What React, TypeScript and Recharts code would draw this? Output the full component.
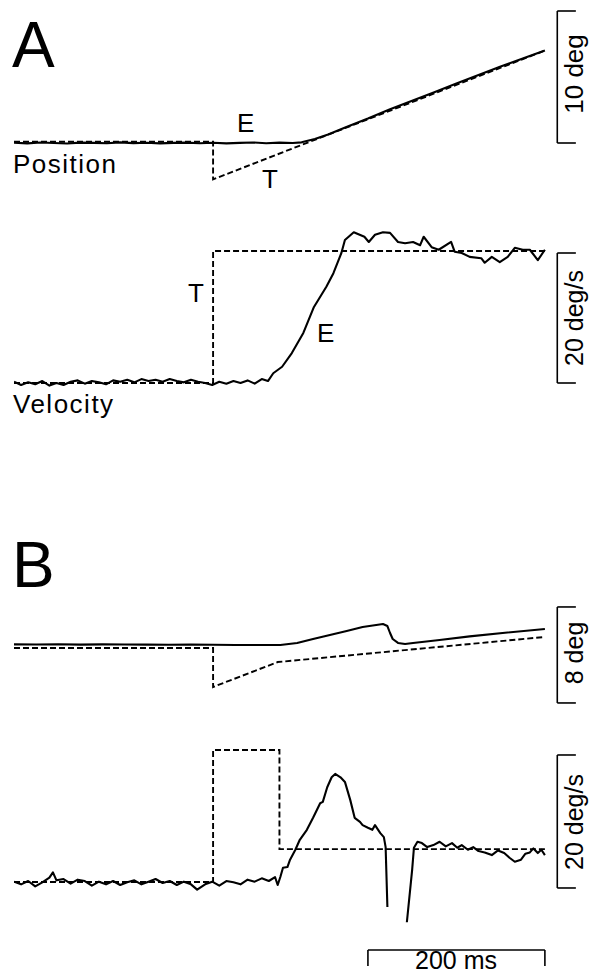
import React from 'react'
import { LineChart, Line, XAxis, YAxis, ReferenceLine } from 'recharts'

// time in ms relative to target motion onset
const T_MIN = -225
const T_MAX = 430.5
const BAR_T = 389
const TICK_T = 410

// ---- A: position (deg) ----
const aPosEyeT = [-225, -210, -195, -180, -165, -150, -135, -120, -105, -90, -75, -60, -45, -30, -15, 0, 15, 30, 45, 60, 75, 90, 100, 115, 130, 150, 175, 200, 225, 250, 275, 300, 325, 350, 375]
const aPosEyeV = [0.02, -0.03, 0.04, 0, -0.04, 0.03, 0.01, -0.02, 0.05, -0.01, 0.02, -0.03, 0.01, 0.03, -0.02, 0.02, -0.03, 0.01, 0.04, -0.02, 0.03, 0.0, 0.05, 0.3, 0.65, 1.2, 1.85, 2.55, 3.2, 3.85, 4.5, 5.15, 5.8, 6.4, 7.0]
const aPosTgtT = [-225, 0, 0, 375]
const aPosTgtV = [0.1, 0.1, -2.75, 7.0]

// ---- A: velocity (deg/s) ----
const aVelEyeT = [-225, -217, -209, -201, -193, -185, -177, -169, -161, -153, -145, -137, -129, -121, -113, -105, -97, -89, -81, -73, -65, -57, -49, -41, -33, -25, -17, -9, -1, 7, 15, 23, 31, 39, 47, 55, 62,
  68, 78, 89, 102, 114, 128, 136, 145, 149, 159, 171, 176, 183, 192, 200, 209, 217, 226, 234, 238, 247, 255, 269, 273, 281, 290, 303, 307, 315, 324, 333, 341, 350, 358, 367, 375]
const aVelEyeV = [0.2, -0.3, 0.1, -0.2, 0.3, -0.4, 0.0, -0.3, 0.2, 0.4, -0.1, 0.3, 0.1, -0.2, 0.4, 0.2, 0.5, 0.1, 0.6, 0.3, 0.5, 0.2, 0.6, 0.3, 0.1, 0.5, 0.2, 0.0, -0.3, 0.2, -0.1, 0.3, 0.0, 0.4, -0.1, 0.6, 0.3,
  1.5, 2.5, 4.6, 7.7, 11.7, 14.8, 16.9, 20, 22, 23.2, 22.5, 21.7, 22.8, 23.2, 23.1, 21.7, 21.5, 21.7, 21.2, 22.5, 20.9, 20.5, 21.7, 20.2, 20, 19.4, 19.2, 18.5, 19.4, 18.6, 19.4, 20.8, 20.5, 20.5, 18.9, 20.5]
const aVelTgtT = [-225, 0, 0, 375]
const aVelTgtV = [0, 0, 20.3, 20.3]

// ---- B: position (deg) ----
const bPosEyeT = [-225, -200, -175, -150, -125, -100, -75, -50, -25, 0, 25, 50, 76, 95, 113, 132, 151, 169, 192, 197, 200, 203, 209, 217, 226, 256, 290, 330, 375]
const bPosEyeV = [0.05, 0.04, 0.06, 0.03, 0.05, 0.04, 0.03, 0.02, 0.03, 0.02, 0.0, 0.0, 0.0, 0.17, 0.5, 0.83, 1.17, 1.5, 1.75, 1.58, 1.0, 0.5, 0.17, 0.08, 0.17, 0.42, 0.72, 1.02, 1.33]
const bPosTgtT = [-225, 0, 0, 73, 375]
const bPosTgtV = [-0.25, -0.25, -3.5, -1.42, 0.67]

// ---- B: velocity (deg/s); null = blanked saccade ----
const bVelEyeT = [-225, -217, -209, -201, -193, -185, -181, -177, -169, -161, -153, -145, -137, -129, -121, -113, -105, -97, -89, -81, -73, -65, -57, -49, -41, -33, -25, -18, -9, -1, 7, 15, 23, 31, 39, 47, 55, 63, 70,
  73, 76, 79, 84, 87, 93, 98, 106, 113, 121, 124, 129, 134, 138, 144, 149, 155, 160, 166, 169, 175, 180, 183, 189, 193, 195, 197, 208,
  219, 225, 227, 231, 236, 242, 249, 256, 263, 270, 276, 281, 288, 294, 300, 307, 315, 322, 329, 335, 341, 348, 353, 358, 362, 367, 371, 375]
const bVelEyeV: (number | null)[] = [0.2, -0.2, 0.3, -0.5, 0.1, 0.8, 1.6, 0.4, 0.6, -0.1, 0.5, 0.3, -0.4, 0.2, -0.2, 0.3, -0.3, 0.1, 0.4, -0.2, 0.2, 0.6, 0.0, 0.3, -0.3, 0.2, -0.2, -1.0, -0.2, 0.2, -0.4, 0.3, 0.1, -0.2, 0.5, 0.2, 0.7, 0.3, 0.9,
  -0.3, 0.9, 2.3, 2.4, 3.5, 5, 6.5, 8, 9.8, 12, 12.2, 14.4, 15.9, 16.4, 15.9, 15.2, 12.5, 9.8, 9.2, 8.7, 8.3, 8, 8.7, 7.5, 6.9, 5.4, -3.6, null,
  -5.9, 2, 5.3, 6.2, 6, 5.4, 5.7, 6.2, 5.5, 6.0, 5.3, 5.7, 5.0, 5.4, 4.8, 4.6, 4.2, 4.9, 4.5, 3.8, 3.2, 3.5, 4.4, 4.6, 5.2, 4.5, 5.0, 4.2]
const bVelTgtT = [-225, 0, 0, 75, 75, 375]
const bVelTgtV = [0.15, 0.15, 20, 20, 5.1, 5.1]

const zip = (ts: number[], vs: (number | null)[]) => ts.map((t, i) => ({ t, v: vs[i] }))

const FONT = '"Liberation Sans", Arial, Helvetica, sans-serif'

interface TraceProps {
  top: number
  height: number
  zeroY: number
  pxPerUnit: number
  eye: { t: number; v: number | null }[]
  target: { t: number; v: number | null }[]
  bar: [number, number]
  timeBar?: boolean
}

function Trace({ top, height, zeroY, pxPerUnit, eye, target, bar, timeBar }: TraceProps) {
  const hi = (zeroY - top) / pxPerUnit
  const lo = hi - height / pxPerUnit
  const tb = (pxY: number) => (zeroY - pxY) / pxPerUnit
  return (
    <div style={{ position: 'absolute', left: 0, top, width: 594, height }}>
      <LineChart width={594} height={height} margin={{ top: 0, right: 0, bottom: 0, left: 14 }}>
        <XAxis type="number" dataKey="t" domain={[T_MIN, T_MAX]} hide allowDataOverflow />
        <YAxis type="number" domain={[lo, hi]} hide allowDataOverflow />
        <ReferenceLine segment={[{ x: BAR_T, y: bar[0] }, { x: BAR_T, y: bar[1] }]} stroke="#000" strokeWidth={1.6} />
        <ReferenceLine segment={[{ x: BAR_T, y: bar[0] }, { x: TICK_T, y: bar[0] }]} stroke="#000" strokeWidth={1.6} />
        <ReferenceLine segment={[{ x: BAR_T, y: bar[1] }, { x: TICK_T, y: bar[1] }]} stroke="#000" strokeWidth={1.6} />
        {timeBar && (
          <>
            <ReferenceLine segment={[{ x: 175, y: tb(950) }, { x: 375, y: tb(950) }]} stroke="#000" strokeWidth={1.6} />
            <ReferenceLine segment={[{ x: 175, y: tb(950) }, { x: 175, y: tb(966) }]} stroke="#000" strokeWidth={1.6} />
            <ReferenceLine segment={[{ x: 375, y: tb(950) }, { x: 375, y: tb(966) }]} stroke="#000" strokeWidth={1.6} />
          </>
        )}
        <Line data={target} dataKey="v" type="linear" stroke="#000" strokeWidth={1.9} strokeDasharray="6 3" dot={false} isAnimationActive={false} />
        <Line data={eye} dataKey="v" type="linear" stroke="#000" strokeWidth={2.1} strokeLinejoin="round" dot={false} connectNulls={false} isAnimationActive={false} />
      </LineChart>
    </div>
  )
}

export default function App() {
  const txt = { fontFamily: FONT, fill: '#000' }
  return (
    <div style={{ position: 'absolute', left: 0, top: 0, width: 594, height: 976, background: '#fff', overflow: 'hidden' }}>
      <Trace top={0} height={200} zeroY={143} pxPerUnit={13.2} eye={zip(aPosEyeT, aPosEyeV)} target={zip(aPosTgtT, aPosTgtV)} bar={[0, 10]} />
      <Trace top={200} height={230} zeroY={383} pxPerUnit={6.5} eye={zip(aVelEyeT, aVelEyeV)} target={zip(aVelTgtT, aVelTgtV)} bar={[0, 20]} />
      <Trace top={590} height={130} zeroY={645} pxPerUnit={12} eye={zip(bPosEyeT, bPosEyeV)} target={zip(bPosTgtT, bPosTgtV)} bar={[-4.83, 3.17]} />
      <Trace top={720} height={256} zeroY={883} pxPerUnit={6.65} eye={zip(bVelEyeT, bVelEyeV)} target={zip(bVelTgtT, bVelTgtV)} bar={[-0.75, 19.25]} timeBar />
      <svg width={594} height={976} style={{ position: 'absolute', left: 0, top: 0, pointerEvents: 'none' }}>
        <text x={12} y={67} fontSize={64} {...txt}>A</text>
        <text x={12} y={587} fontSize={64} {...txt}>B</text>
        <text x={237} y={132} fontSize={26} {...txt}>E</text>
        <text x={262} y={188} fontSize={26} {...txt}>T</text>
        <text x={13} y={173} fontSize={26} letterSpacing={1.5} {...txt}>Position</text>
        <text x={188} y={302} fontSize={26} {...txt}>T</text>
        <text x={317} y={342} fontSize={26} {...txt}>E</text>
        <text x={13} y={413} fontSize={26} letterSpacing={1.5} {...txt}>Velocity</text>
        <text x={456} y={969} fontSize={25} textAnchor="middle" {...txt}>200 ms</text>
        <text transform="translate(583,74) rotate(-90)" fontSize={26} textAnchor="middle" {...txt}>10 deg</text>
        <text transform="translate(583,318) rotate(-90)" fontSize={25} textAnchor="middle" {...txt}>20 deg/s</text>
        <text transform="translate(583,653) rotate(-90)" fontSize={25} textAnchor="middle" {...txt}>8 deg</text>
        <text transform="translate(583,822) rotate(-90)" fontSize={25} textAnchor="middle" {...txt}>20 deg/s</text>
      </svg>
    </div>
  )
}
